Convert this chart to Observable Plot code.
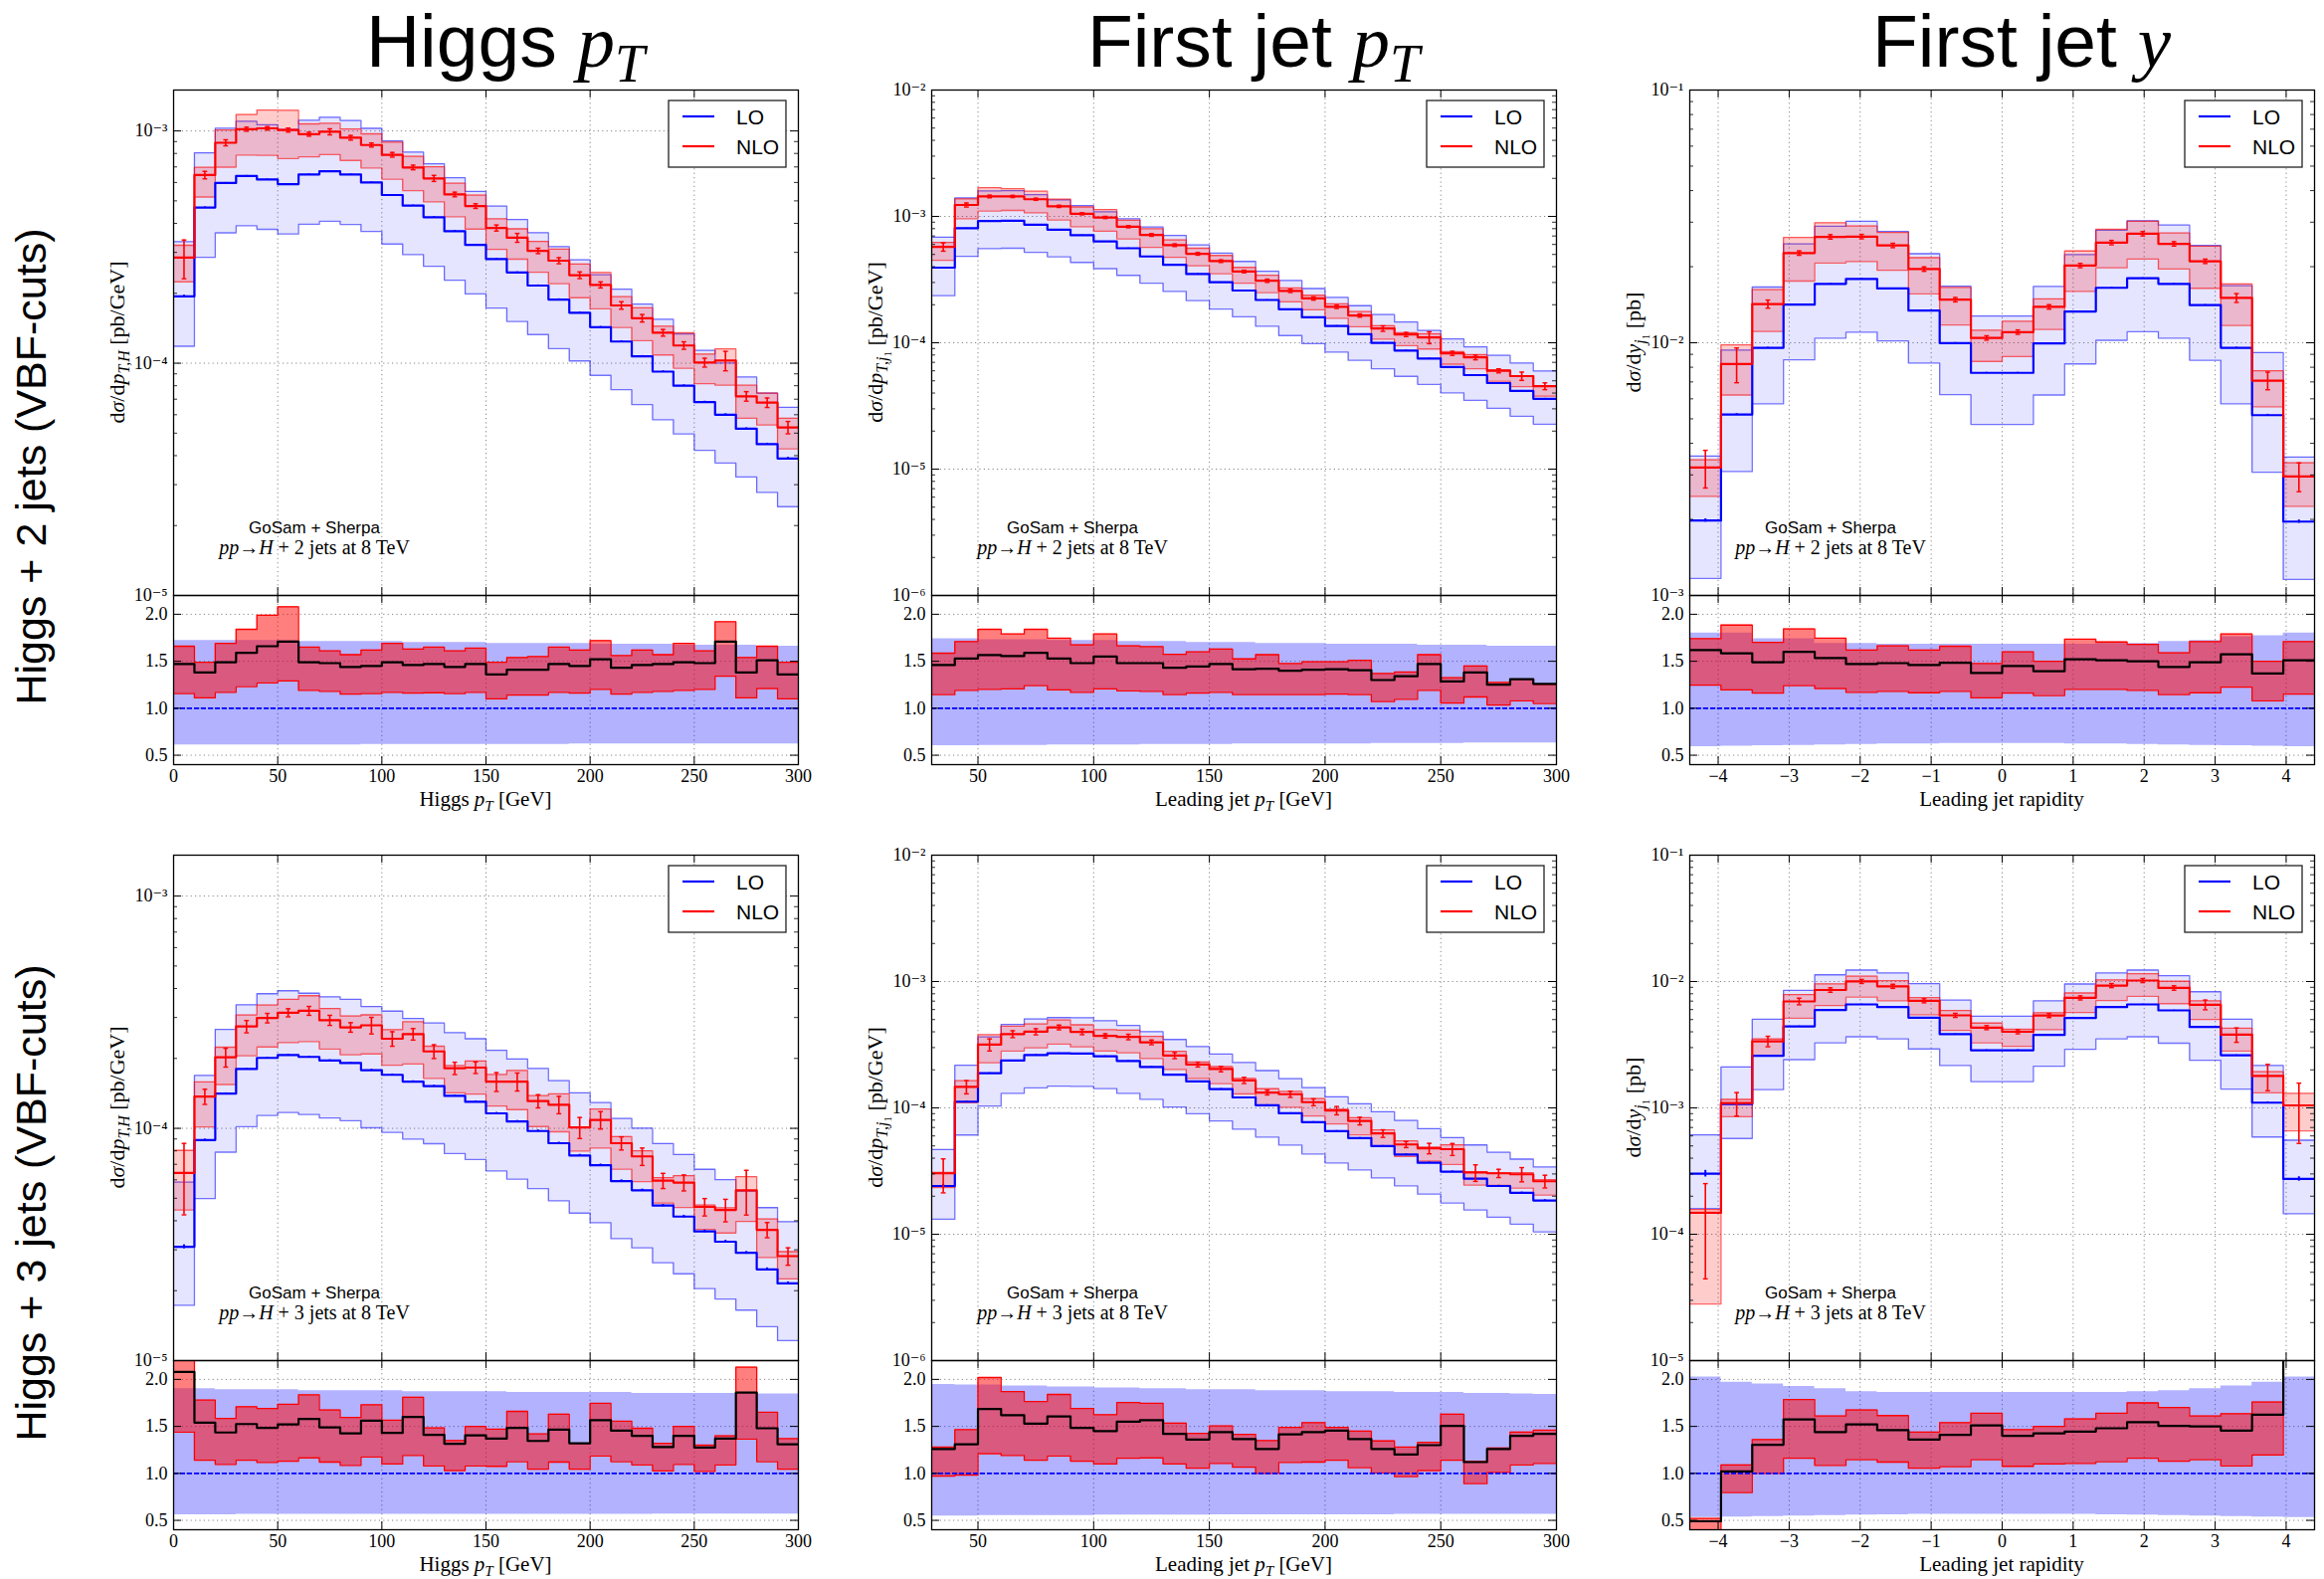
<!DOCTYPE html>
<html>
<head>
<meta charset="utf-8">
<script src="https://cdn.jsdelivr.net/npm/d3@7"></script>
<script src="https://cdn.jsdelivr.net/npm/@observablehq/plot@0.6"></script>
<style>
  body { margin: 0; background: #fff; }
  #fig { position: relative; width: 2336px; height: 1587px; overflow: hidden; background: #fff; }
  #fig svg { position: absolute; }
</style>
</head>
<body>
<div id="fig"></div>
<script>
// ---------------- bins and ticks ----------------
const ptEdges  = [0,10,20,30,40,50,60,70,80,90,100,110,120,130,140,150,160,170,180,190,200,210,220,230,240,250,260,270,280,290,300];
const jetEdges = [30,40,50,60,70,80,90,100,110,120,130,140,150,160,170,180,190,200,210,220,230,240,250,260,270,280,290,300];
const rapEdges = [-4.4,-3.96,-3.52,-3.08,-2.64,-2.2,-1.76,-1.32,-0.88,-0.44,0,0.44,0.88,1.32,1.76,2.2,2.64,3.08,3.52,3.96,4.4];

const ptTicks  = [0,50,100,150,200,250,300];
const jetTicks = [50,100,150,200,250,300];
const rapTicks = [-4,-3,-2,-1,0,1,2,3,4];
const ratioTicks = [0.5,1.0,1.5,2.0];

// ---------------- H + 2 jets : Higgs pT ----------------
const h2ptLO    = [1.94e-4,4.68e-4,5.97e-4,6.40e-4,6.18e-4,5.90e-4,6.50e-4,6.70e-4,6.49e-4,6.00e-4,5.30e-4,4.77e-4,4.25e-4,3.70e-4,3.23e-4,2.81e-4,2.46e-4,2.16e-4,1.88e-4,1.65e-4,1.43e-4,1.24e-4,1.07e-4,9.2e-5,8.0e-5,6.8e-5,6.0e-5,5.22e-5,4.48e-5,3.89e-5];
const h2ptRatio = [1.47,1.38,1.49,1.59,1.66,1.71,1.49,1.48,1.44,1.45,1.49,1.46,1.47,1.44,1.47,1.36,1.41,1.41,1.47,1.45,1.52,1.43,1.46,1.47,1.49,1.48,1.71,1.38,1.51,1.36];
const h2ptNloUp = [1.66,1.49,1.69,1.84,1.99,2.08,1.65,1.61,1.57,1.62,1.69,1.63,1.65,1.61,1.64,1.49,1.54,1.55,1.65,1.62,1.72,1.56,1.62,1.57,1.69,1.61,1.92,1.54,1.66,1.49];
const h2ptNloDn = [1.155,1.11,1.17,1.23,1.27,1.29,1.19,1.18,1.15,1.155,1.17,1.16,1.165,1.155,1.17,1.10,1.14,1.14,1.17,1.16,1.20,1.15,1.17,1.18,1.19,1.20,1.34,1.11,1.21,1.10];
const h2ptLoUp  = [1.72,1.72,1.72,1.72,1.72,1.72,1.71,1.71,1.71,1.71,1.71,1.70,1.70,1.70,1.70,1.69,1.69,1.69,1.69,1.69,1.68,1.68,1.68,1.68,1.67,1.67,1.67,1.67,1.66,1.66];
const h2ptLoDn  = [0.61,0.61,0.61,0.61,0.61,0.61,0.61,0.61,0.61,0.615,0.615,0.615,0.615,0.615,0.615,0.615,0.615,0.615,0.615,0.62,0.62,0.62,0.62,0.62,0.62,0.62,0.62,0.62,0.62,0.62];
const h2ptNloErr= [0.19,0.037,0.03,0.02,0.017,0.02,0.02,0.03,0.023,0.02,0.023,0.023,0.03,0.023,0.023,0.03,0.044,0.027,0.03,0.033,0.03,0.037,0.037,0.033,0.037,0.044,0.096,0.047,0.047,0.061];
const h2ptLoErr = [0.012,0.006,0.005,0.005,0.005,0.005,0.005,0.005,0.005,0.005,0.005,0.005,0.006,0.006,0.006,0.006,0.006,0.006,0.007,0.007,0.007,0.008,0.008,0.008,0.009,0.009,0.01,0.01,0.01,0.011];

// ---------------- H + 2 jets : leading jet pT ----------------
const h2jLO    = [3.93e-4,8.05e-4,9.19e-4,9.25e-4,8.60e-4,7.85e-4,7.09e-4,6.33e-4,5.60e-4,4.82e-4,4.14e-4,3.50e-4,3.01e-4,2.59e-4,2.18e-4,1.84e-4,1.59e-4,1.36e-4,1.17e-4,9.97e-5,8.68e-5,7.50e-5,6.42e-5,5.55e-5,4.80e-5,4.16e-5,3.60e-5];
const h2jRatio = [1.46,1.53,1.565,1.555,1.59,1.53,1.48,1.55,1.48,1.48,1.43,1.445,1.47,1.415,1.42,1.40,1.41,1.415,1.405,1.30,1.34,1.47,1.285,1.38,1.25,1.31,1.26];
const h2jNloUp = [1.586,1.71,1.84,1.79,1.84,1.745,1.675,1.79,1.665,1.655,1.575,1.60,1.63,1.525,1.57,1.475,1.495,1.495,1.51,1.37,1.385,1.57,1.325,1.45,1.275,1.31,1.255];
const h2jNloDn = [1.145,1.19,1.20,1.205,1.24,1.195,1.17,1.205,1.185,1.18,1.145,1.16,1.17,1.145,1.145,1.145,1.145,1.15,1.145,1.07,1.095,1.19,1.055,1.12,1.035,1.08,1.05];
const h2jLoUp  = [1.74,1.74,1.73,1.73,1.73,1.72,1.72,1.72,1.71,1.71,1.71,1.70,1.70,1.70,1.69,1.69,1.69,1.68,1.68,1.68,1.68,1.67,1.67,1.67,1.66,1.66,1.66];
const h2jLoDn  = [0.60,0.60,0.605,0.605,0.605,0.61,0.61,0.61,0.61,0.615,0.615,0.615,0.615,0.62,0.62,0.62,0.62,0.62,0.62,0.625,0.625,0.625,0.625,0.63,0.63,0.63,0.63];
const h2jNloErr= [0.075,0.037,0.024,0.02,0.02,0.02,0.02,0.02,0.02,0.024,0.024,0.024,0.024,0.024,0.03,0.03,0.03,0.03,0.03,0.05,0.037,0.108,0.037,0.043,0.037,0.075,0.062];
const h2jLoErr = [0.008,0.005,0.004,0.004,0.004,0.004,0.004,0.004,0.004,0.005,0.005,0.005,0.005,0.005,0.005,0.006,0.006,0.006,0.006,0.007,0.007,0.007,0.008,0.008,0.008,0.009,0.009];

// ---------------- H + 2 jets : leading jet rapidity ----------------
const h2yLO    = [1.98e-3,5.20e-3,9.55e-3,1.415e-2,1.71e-2,1.79e-2,1.64e-2,1.34e-2,9.97e-3,7.60e-3,7.60e-3,9.94e-3,1.33e-2,1.65e-2,1.80e-2,1.71e-2,1.41e-2,9.55e-3,5.17e-3,1.96e-3];
const h2yRatio = [1.62,1.585,1.49,1.60,1.535,1.47,1.48,1.46,1.485,1.375,1.45,1.395,1.52,1.51,1.50,1.44,1.49,1.575,1.37,1.51];
const h2yNloUp = [1.74,1.885,1.70,1.845,1.745,1.62,1.665,1.62,1.66,1.475,1.60,1.50,1.735,1.705,1.68,1.59,1.71,1.79,1.50,1.71];
const h2yNloDn = [1.245,1.195,1.16,1.24,1.21,1.17,1.18,1.165,1.18,1.11,1.16,1.135,1.20,1.20,1.19,1.145,1.165,1.225,1.08,1.15];
const h2yLoUp  = [1.80,1.80,1.74,1.74,1.69,1.69,1.68,1.68,1.68,1.68,1.68,1.68,1.68,1.69,1.69,1.71,1.72,1.76,1.77,1.80];
const h2yLoDn  = [0.59,0.595,0.60,0.605,0.61,0.615,0.62,0.62,0.625,0.625,0.625,0.625,0.62,0.62,0.615,0.61,0.605,0.60,0.595,0.59];
const h2yNloErr= [0.17,0.157,0.037,0.02,0.02,0.02,0.02,0.02,0.02,0.02,0.02,0.02,0.02,0.02,0.02,0.02,0.02,0.04,0.08,0.13];
const h2yLoErr = [0.015,0.008,0.005,0.004,0.004,0.004,0.004,0.004,0.005,0.005,0.005,0.005,0.004,0.004,0.004,0.004,0.004,0.005,0.008,0.015];

// ---------------- H + 3 jets : Higgs pT ----------------
const h3ptLO    = [3.09e-5,8.9e-5,1.41e-4,1.80e-4,2.01e-4,2.07e-4,2.03e-4,1.96e-4,1.91e-4,1.78e-4,1.70e-4,1.59e-4,1.52e-4,1.38e-4,1.30e-4,1.16e-4,1.07e-4,9.74e-5,8.63e-5,7.64e-5,6.94e-5,5.93e-5,5.41e-5,4.65e-5,4.17e-5,3.60e-5,3.25e-5,2.91e-5,2.47e-5,2.15e-5];
const h3ptRatio = [2.08,1.54,1.435,1.525,1.485,1.52,1.58,1.49,1.425,1.56,1.43,1.60,1.41,1.315,1.405,1.37,1.485,1.345,1.465,1.32,1.565,1.455,1.40,1.28,1.40,1.275,1.37,1.86,1.48,1.31];
const h3ptNloUp = [2.6,1.78,1.585,1.71,1.69,1.735,1.835,1.675,1.595,1.73,1.565,1.81,1.485,1.35,1.50,1.47,1.66,1.42,1.63,1.32,1.745,1.555,1.48,1.32,1.50,1.30,1.40,2.13,1.65,1.37];
const h3ptNloDn = [1.44,1.14,1.095,1.14,1.115,1.13,1.165,1.12,1.085,1.175,1.10,1.19,1.08,1.03,1.08,1.075,1.125,1.045,1.12,1.045,1.185,1.125,1.09,1.025,1.095,1.02,1.09,1.365,1.125,1.045];
const h3ptLoUp  = [1.90,1.90,1.89,1.89,1.89,1.89,1.88,1.88,1.88,1.88,1.88,1.87,1.87,1.87,1.87,1.87,1.86,1.86,1.86,1.86,1.86,1.86,1.85,1.85,1.85,1.85,1.85,1.845,1.845,1.845];
const h3ptLoDn  = [0.56,0.56,0.56,0.565,0.565,0.565,0.565,0.565,0.565,0.565,0.565,0.565,0.565,0.565,0.565,0.565,0.565,0.565,0.565,0.565,0.565,0.565,0.565,0.567,0.567,0.567,0.567,0.567,0.567,0.567];
const h3ptNloErr= [0.34,0.075,0.093,0.061,0.047,0.04,0.044,0.05,0.047,0.082,0.072,0.057,0.068,0.061,0.057,0.093,0.089,0.065,0.086,0.104,0.086,0.065,0.086,0.075,0.079,0.086,0.111,0.218,0.075,0.086];
const h3ptLoErr = [0.02,0.01,0.008,0.007,0.007,0.007,0.007,0.007,0.007,0.008,0.008,0.008,0.008,0.009,0.009,0.009,0.01,0.01,0.01,0.011,0.011,0.012,0.012,0.012,0.013,0.013,0.014,0.014,0.015,0.015];

// ---------------- H + 3 jets : leading jet pT ----------------
const h3jLO    = [2.41e-5,1.12e-4,1.88e-4,2.37e-4,2.62e-4,2.70e-4,2.69e-4,2.56e-4,2.35e-4,2.11e-4,1.83e-4,1.62e-4,1.41e-4,1.21e-4,1.05e-4,9.07e-5,7.71e-5,6.55e-5,5.77e-5,4.98e-5,4.28e-5,3.68e-5,3.13e-5,2.75e-5,2.41e-5,2.13e-5,1.85e-5];
const h3jRatio = [1.26,1.31,1.685,1.62,1.53,1.605,1.485,1.45,1.55,1.565,1.42,1.36,1.44,1.365,1.26,1.415,1.44,1.455,1.365,1.26,1.20,1.30,1.505,1.12,1.26,1.40,1.42];
const h3jNloUp = [1.28,1.465,2.02,1.87,1.765,1.84,1.69,1.625,1.755,1.745,1.535,1.425,1.505,1.415,1.35,1.49,1.54,1.49,1.45,1.345,1.28,1.33,1.63,1.13,1.27,1.44,1.46];
const h3jNloDn = [0.97,0.98,1.21,1.19,1.14,1.185,1.13,1.10,1.16,1.165,1.10,1.055,1.105,1.065,1.00,1.115,1.12,1.14,1.06,1.005,0.965,1.03,1.14,0.89,1.01,1.09,1.105];
const h3jLoUp  = [1.945,1.94,1.94,1.93,1.93,1.92,1.92,1.91,1.91,1.90,1.90,1.89,1.89,1.89,1.88,1.88,1.88,1.87,1.87,1.87,1.86,1.86,1.86,1.85,1.85,1.845,1.84];
const h3jLoDn  = [0.545,0.545,0.55,0.55,0.55,0.55,0.55,0.555,0.555,0.555,0.555,0.555,0.56,0.56,0.56,0.56,0.56,0.56,0.56,0.56,0.565,0.565,0.565,0.565,0.565,0.565,0.565];
const h3jNloErr= [0.3,0.12,0.11,0.062,0.056,0.043,0.05,0.04,0.05,0.043,0.056,0.043,0.05,0.056,0.043,0.056,0.062,0.075,0.069,0.069,0.056,0.095,0.108,0.15,0.075,0.129,0.115];
const h3jLoErr = [0.03,0.012,0.008,0.007,0.007,0.007,0.007,0.007,0.007,0.008,0.008,0.008,0.008,0.009,0.009,0.009,0.01,0.01,0.01,0.011,0.011,0.012,0.012,0.012,0.013,0.013,0.014];

// ---------------- H + 3 jets : leading jet rapidity ----------------
const h3yLO    = [3.02e-4,1.07e-3,2.58e-3,4.42e-3,5.95e-3,6.59e-3,6.28e-3,5.18e-3,3.83e-3,2.86e-3,2.86e-3,3.78e-3,5.14e-3,6.28e-3,6.59e-3,5.91e-3,4.37e-3,2.61e-3,1.10e-3,2.74e-4];
const h3yRatio = [0.49,1.02,1.305,1.575,1.44,1.52,1.46,1.36,1.41,1.51,1.40,1.425,1.445,1.48,1.545,1.505,1.50,1.455,1.625,3.82];
const h3yNloUp = [0.52,1.09,1.36,1.785,1.61,1.675,1.615,1.44,1.54,1.64,1.465,1.50,1.58,1.64,1.75,1.70,1.61,1.635,1.76,4.75];
const h3yNloDn = [0.093,0.795,1.0,1.16,1.085,1.145,1.12,1.055,1.07,1.145,1.075,1.10,1.105,1.125,1.16,1.13,1.145,1.08,1.195,2.4];
const h3yLoUp  = [2.025,1.97,1.95,1.925,1.90,1.87,1.86,1.86,1.86,1.86,1.86,1.86,1.86,1.86,1.87,1.88,1.90,1.93,1.97,2.025];
const h3yLoDn  = [0.53,0.535,0.54,0.545,0.55,0.555,0.56,0.565,0.565,0.565,0.565,0.565,0.565,0.56,0.555,0.55,0.545,0.54,0.535,0.53];
const h3yNloErr= [0.7,0.21,0.095,0.06,0.04,0.037,0.037,0.037,0.037,0.037,0.037,0.037,0.037,0.037,0.037,0.04,0.088,0.13,0.235,0.5];
const h3yLoErr = [0.06,0.015,0.008,0.006,0.005,0.005,0.005,0.006,0.007,0.008,0.008,0.007,0.006,0.005,0.005,0.005,0.006,0.008,0.015,0.04];

// ---------------- layout ----------------
const FW = 628, FH = 508, RH = 170;          // frame width, main height, ratio height
const colX = [174, 936, 1698];
const rowY = [90, 859];
const SERIF = "'Liberation Serif', 'DejaVu Serif', serif";
const SANS  = "'Liberation Sans', 'DejaVu Sans', sans-serif";
const BLUE = "#0000ff", RED = "#ff0000";

const panels = [
  {col: 0, row: 0, jets: 2, edges: ptEdges,  xTicks: ptTicks,  xDomain: [0, 300],     yDomain: [1e-5, 1.5e-3], lo: h2ptLO, ratio: h2ptRatio, nloUp: h2ptNloUp, nloDn: h2ptNloDn, loUp: h2ptLoUp, loDn: h2ptLoDn, nloErr: h2ptNloErr, loErr: h2ptLoErr, kind: "higgs"},
  {col: 1, row: 0, jets: 2, edges: jetEdges, xTicks: jetTicks, xDomain: [30, 300],    yDomain: [1e-6, 1e-2],   lo: h2jLO,  ratio: h2jRatio,  nloUp: h2jNloUp,  nloDn: h2jNloDn,  loUp: h2jLoUp,  loDn: h2jLoDn,  nloErr: h2jNloErr,  loErr: h2jLoErr,  kind: "jet"},
  {col: 2, row: 0, jets: 2, edges: rapEdges, xTicks: rapTicks, xDomain: [-4.4, 4.4],  yDomain: [1e-3, 1e-1],   lo: h2yLO,  ratio: h2yRatio,  nloUp: h2yNloUp,  nloDn: h2yNloDn,  loUp: h2yLoUp,  loDn: h2yLoDn,  nloErr: h2yNloErr,  loErr: h2yLoErr,  kind: "rap"},
  {col: 0, row: 1, jets: 3, edges: ptEdges,  xTicks: ptTicks,  xDomain: [0, 300],     yDomain: [1e-5, 1.5e-3], lo: h3ptLO, ratio: h3ptRatio, nloUp: h3ptNloUp, nloDn: h3ptNloDn, loUp: h3ptLoUp, loDn: h3ptLoDn, nloErr: h3ptNloErr, loErr: h3ptLoErr, kind: "higgs"},
  {col: 1, row: 1, jets: 3, edges: jetEdges, xTicks: jetTicks, xDomain: [30, 300],    yDomain: [1e-6, 1e-2],   lo: h3jLO,  ratio: h3jRatio,  nloUp: h3jNloUp,  nloDn: h3jNloDn,  loUp: h3jLoUp,  loDn: h3jLoDn,  nloErr: h3jNloErr,  loErr: h3jLoErr,  kind: "jet"},
  {col: 2, row: 1, jets: 3, edges: rapEdges, xTicks: rapTicks, xDomain: [-4.4, 4.4],  yDomain: [1e-5, 1e-1],   lo: h3yLO,  ratio: h3yRatio,  nloUp: h3yNloUp,  nloDn: h3yNloDn,  loUp: h3yLoUp,  loDn: h3yLoDn,  nloErr: h3yNloErr,  loErr: h3yLoErr,  kind: "rap"}
];

// ---------------- helpers ----------------
const SUP = {"-": "\u207B", "0": "\u2070", "1": "\u00B9", "2": "\u00B2", "3": "\u00B3", "4": "\u2074", "5": "\u2075", "6": "\u2076", "7": "\u2077", "8": "\u2078", "9": "\u2079"};
const powLabel = v => "10" + String(Math.round(Math.log10(v))).replace(/./g, c => SUP[c]);
const signed = v => v < 0 ? "\u2212" + (-v) : String(v);

function decadesIn([a, b]) {
  const out = [];
  for (let e = Math.ceil(Math.log10(a) - 1e-9); e <= Math.floor(Math.log10(b) + 1e-9); e++) out.push(10 ** e);
  return out;
}
function minorsIn([a, b]) {
  const out = [];
  for (let e = Math.floor(Math.log10(a)); e <= Math.ceil(Math.log10(b)); e++)
    for (let k = 2; k <= 9; k++) { const v = k * 10 ** e; if (v > a * 1.0001 && v < b * 0.9999) out.push(v); }
  return out;
}

// Histogram rows: one per bin lower edge, plus a closing row at the last edge (for step-after curves).
function stepRows(p) {
  const n = p.lo.length, rows = [];
  for (let i = 0; i <= n; i++) {
    const j = Math.min(i, n - 1), lo = p.lo[j];
    rows.push({
      x: p.edges[i],
      lo, loU: lo * p.loUp[j], loD: lo * p.loDn[j],
      nlo: lo * p.ratio[j], nloU: lo * p.nloUp[j], nloD: lo * p.nloDn[j],
      r: p.ratio[j], rU: p.nloUp[j], rD: p.nloDn[j], bU: p.loUp[j], bD: p.loDn[j]
    });
  }
  return rows;
}
function errRows(p, which) {
  return p.lo.map((lo, i) => {
    const c = (p.edges[i] + p.edges[i + 1]) / 2;
    const v = which === "nlo" ? lo * p.ratio[i] : lo;
    const e = which === "nlo" ? p.nloErr[i] : p.loErr[i];
    return {x: c, y1: v * (1 - e), y2: v * (1 + e)};
  });
}
// short horizontal bar used as an error-bar cap
const capSymbol = {draw(ctx, size) { const h = Math.sqrt(size / Math.PI); ctx.moveTo(-h, 0); ctx.lineTo(h, 0); }};

const gridStyle = {stroke: "#7a7a7a", strokeOpacity: 0.9, strokeWidth: 1, strokeDasharray: "1.2,3.2"};
const svgStyle = {background: "transparent", overflow: "visible", fontFamily: SERIF, fontSize: "18px", color: "black"};

function inwardTicks(xTicks, yMajor, yMinor, h) {
  const m = [
    Plot.ruleX(xTicks, {x: d => d, insetTop: h - 8, stroke: "black", strokeWidth: 1}),
    Plot.ruleX(xTicks, {x: d => d, insetBottom: h - 8, stroke: "black", strokeWidth: 1}),
    Plot.ruleY(yMajor, {y: d => d, insetRight: FW - 8, stroke: "black", strokeWidth: 1}),
    Plot.ruleY(yMajor, {y: d => d, insetLeft: FW - 8, stroke: "black", strokeWidth: 1})
  ];
  if (yMinor.length) m.push(
    Plot.ruleY(yMinor, {y: d => d, insetRight: FW - 4, stroke: "black", strokeWidth: 0.8}),
    Plot.ruleY(yMinor, {y: d => d, insetLeft: FW - 4, stroke: "black", strokeWidth: 0.8})
  );
  return m;
}

const fig = document.getElementById("fig");

function place(svg, left, top) {
  svg.style.left = left + "px";
  svg.style.top = top + "px";
  fig.appendChild(svg);
}

// ---------------- panels ----------------
for (const p of panels) {
  const fx = colX[p.col], fy = rowY[p.row];
  const rows = stepRows(p);
  const nloErrs = errRows(p, "nlo"), loErrs = errRows(p, "lo");
  const decs = decadesIn(p.yDomain), mins = minorsIn(p.yDomain);
  const mL = 70, mR = 12, mT = 12, mB = 14;

  const main = Plot.plot({
    width: FW + mL + mR, height: FH + mT + mB,
    marginLeft: mL, marginRight: mR, marginTop: mT, marginBottom: mB,
    x: {domain: p.xDomain, axis: null},
    y: {type: "log", domain: p.yDomain, axis: null},
    style: svgStyle,
    marks: [
      Plot.gridX(p.xTicks, gridStyle),
      Plot.gridY(decs, gridStyle),
      // LO scale band
      Plot.areaY(rows, {x: "x", y1: "loD", y2: "loU", curve: "step-after", fill: BLUE, fillOpacity: 0.1, clip: true}),
      Plot.line(rows, {x: "x", y: "loU", curve: "step-after", stroke: BLUE, strokeOpacity: 0.55, strokeWidth: 1.3, clip: true}),
      Plot.line(rows, {x: "x", y: "loD", curve: "step-after", stroke: BLUE, strokeOpacity: 0.55, strokeWidth: 1.3, clip: true}),
      // NLO scale band
      Plot.areaY(rows, {x: "x", y1: "nloD", y2: "nloU", curve: "step-after", fill: RED, fillOpacity: 0.2, clip: true}),
      Plot.line(rows, {x: "x", y: "nloU", curve: "step-after", stroke: RED, strokeOpacity: 0.6, strokeWidth: 1.3, clip: true}),
      Plot.line(rows, {x: "x", y: "nloD", curve: "step-after", stroke: RED, strokeOpacity: 0.6, strokeWidth: 1.3, clip: true}),
      // central values
      Plot.line(rows, {x: "x", y: "lo", curve: "step-after", stroke: BLUE, strokeWidth: 2.2, clip: true}),
      Plot.ruleX(loErrs, {x: "x", y1: "y1", y2: "y2", stroke: BLUE, strokeWidth: 2, clip: true}),
      Plot.line(rows, {x: "x", y: "nlo", curve: "step-after", stroke: RED, strokeWidth: 2.2, clip: true}),
      Plot.ruleX(nloErrs, {x: "x", y1: "y1", y2: "y2", stroke: RED, strokeWidth: 1.6, clip: true}),
      Plot.dot(nloErrs, {x: "x", y: "y1", symbol: capSymbol, r: 2.4, stroke: RED, strokeWidth: 1.4, clip: true}),
      Plot.dot(nloErrs, {x: "x", y: "y2", symbol: capSymbol, r: 2.4, stroke: RED, strokeWidth: 1.4, clip: true}),
      Plot.frame({stroke: "black", strokeWidth: 1.3}),
      ...inwardTicks(p.xTicks, decs, mins, FH),
      Plot.axisY(decs, {anchor: "left", tickSize: 0, tickPadding: 6, tickFormat: powLabel, label: null, fontSize: 18})
    ]
  });
  place(main, fx - mL, fy - mT);

  const rT = 4, rB = 40;
  const ratio = Plot.plot({
    width: FW + mL + mR, height: RH + rT + rB,
    marginLeft: mL, marginRight: mR, marginTop: rT, marginBottom: rB,
    x: {domain: p.xDomain, axis: null},
    y: {domain: [0.4, 2.2], axis: null},
    style: svgStyle,
    marks: [
      Plot.gridX(p.xTicks, gridStyle),
      Plot.gridY(ratioTicks, gridStyle),
      Plot.areaY(rows, {x: "x", y1: "bD", y2: "bU", curve: "step-after", fill: BLUE, fillOpacity: 0.3, clip: true}),
      Plot.areaY(rows, {x: "x", y1: "rD", y2: "rU", curve: "step-after", fill: RED, fillOpacity: 0.5, clip: true}),
      Plot.line(rows, {x: "x", y: "rU", curve: "step-after", stroke: RED, strokeWidth: 1.3, clip: true}),
      Plot.line(rows, {x: "x", y: "rD", curve: "step-after", stroke: RED, strokeWidth: 1.3, clip: true}),
      Plot.ruleY([1], {stroke: BLUE, strokeWidth: 1.6, strokeDasharray: "5,2"}),
      Plot.line(rows, {x: "x", y: "r", curve: "step-after", stroke: "black", strokeWidth: 2.2, clip: true}),
      Plot.frame({stroke: "black", strokeWidth: 1.3}),
      ...inwardTicks(p.xTicks, ratioTicks, [], RH),
      Plot.axisY(ratioTicks, {anchor: "left", tickSize: 0, tickPadding: 6, tickFormat: d3.format(".1f"), label: null, fontSize: 18}),
      Plot.axisX(p.xTicks, {anchor: "bottom", tickSize: 0, tickPadding: 5, tickFormat: signed, label: null, fontSize: 18})
    ]
  });
  place(ratio, fx - mL, fy + FH - rT);
}

// ---------------- text overlay: titles, axis labels, legends, notes ----------------
const over = d3.create("svg").attr("width", 2336).attr("height", 1587)
  .style("left", "0px").style("top", "0px").style("pointer-events", "none");

function rich(parts, attrs) {
  const t = over.append("text");
  for (const [k, v] of Object.entries(attrs)) t.attr(k, v);
  let shift = 0;
  for (const q of parts) {
    const s = t.append("tspan").text(q.t);
    if (q.i) s.attr("font-style", "italic");
    if (q.f) s.attr("font-family", q.f);
    if (q.size) s.attr("font-size", q.size);
    const target = q.sub || 0;
    if (target !== shift) { s.attr("dy", target - shift); shift = target; }
  }
  return t;
}

// column titles
const titleParts = [
  [{t: "Higgs ", f: SANS}, {t: "p", f: SERIF, i: true}, {t: "T", f: SERIF, i: true, sub: 15, size: 54}],
  [{t: "First jet ", f: SANS}, {t: "p", f: SERIF, i: true}, {t: "T", f: SERIF, i: true, sub: 15, size: 54}],
  [{t: "First jet ", f: SANS}, {t: "y", f: SERIF, i: true}]
];
const titleX = [508, 1260, 2032];
titleParts.forEach((parts, k) => rich(parts, {x: titleX[k], y: 67, "text-anchor": "middle", "font-size": 75, "font-family": SANS}));

// row labels
const rowLabels = ["Higgs + 2 jets (VBF-cuts)", "Higgs + 3 jets (VBF-cuts)"];
const rowCenters = [469, 1209];
rowLabels.forEach((s, k) => rich([{t: s}], {transform: `translate(46,${rowCenters[k]}) rotate(-90)`, "text-anchor": "middle", "font-size": 43, "font-family": SANS}));

// per-panel labels
const yLabelParts = {
  higgs: [{t: "d"}, {t: "\u03C3", i: true}, {t: "/d"}, {t: "p", i: true}, {t: "T,H", i: true, sub: 5, size: 16}, {t: " [pb/GeV]"}],
  jet:   [{t: "d"}, {t: "\u03C3", i: true}, {t: "/d"}, {t: "p", i: true}, {t: "T,j", i: true, sub: 5, size: 16}, {t: "1", sub: 9, size: 11}, {t: " [pb/GeV]"}],
  rap:   [{t: "d"}, {t: "\u03C3", i: true}, {t: "/d"}, {t: "y", i: true}, {t: "j", i: true, sub: 5, size: 16}, {t: "1", sub: 9, size: 11}, {t: " [pb]"}]
};
const xLabelParts = {
  higgs: [{t: "Higgs "}, {t: "p", i: true}, {t: "T", i: true, sub: 5, size: 15}, {t: " [GeV]"}],
  jet:   [{t: "Leading jet "}, {t: "p", i: true}, {t: "T", i: true, sub: 5, size: 15}, {t: " [GeV]"}],
  rap:   [{t: "Leading jet rapidity"}]
};

for (const p of panels) {
  const fx = colX[p.col], fy = rowY[p.row], R = fx + FW;
  rich(yLabelParts[p.kind], {transform: `translate(${fx - 49},${fy + FH / 2}) rotate(-90)`, "text-anchor": "middle", "font-size": 22, "font-family": SERIF});
  rich(xLabelParts[p.kind], {x: fx + FW / 2, y: fy + FH + RH + 42, "text-anchor": "middle", "font-size": 21, "font-family": SERIF});

  // legend
  over.append("rect").attr("x", R - 130).attr("y", fy + 11).attr("width", 118).attr("height", 67)
    .attr("fill", "white").attr("stroke", "#222").attr("stroke-width", 1.3);
  over.append("line").attr("x1", R - 116).attr("x2", R - 84).attr("y1", fy + 27).attr("y2", fy + 27).attr("stroke", BLUE).attr("stroke-width", 2.2);
  over.append("line").attr("x1", R - 116).attr("x2", R - 84).attr("y1", fy + 57).attr("y2", fy + 57).attr("stroke", RED).attr("stroke-width", 2.2);
  rich([{t: "LO"}], {x: R - 62, y: fy + 35, "font-size": 21, "font-family": SANS});
  rich([{t: "NLO"}], {x: R - 62, y: fy + 65, "font-size": 21, "font-family": SANS});

  // generator note
  rich([{t: "GoSam + Sherpa"}], {x: fx + 142, y: fy + FH - 62, "text-anchor": "middle", "font-size": 17, "font-family": SANS});
  rich([{t: "pp", i: true}, {t: "\u2192"}, {t: "H", i: true}, {t: ` + ${p.jets} jets at 8 TeV`}],
       {x: fx + 142, y: fy + FH - 41, "text-anchor": "middle", "font-size": 20, "font-family": SERIF});
}

fig.appendChild(over.node());
</script>
</body>
</html>
